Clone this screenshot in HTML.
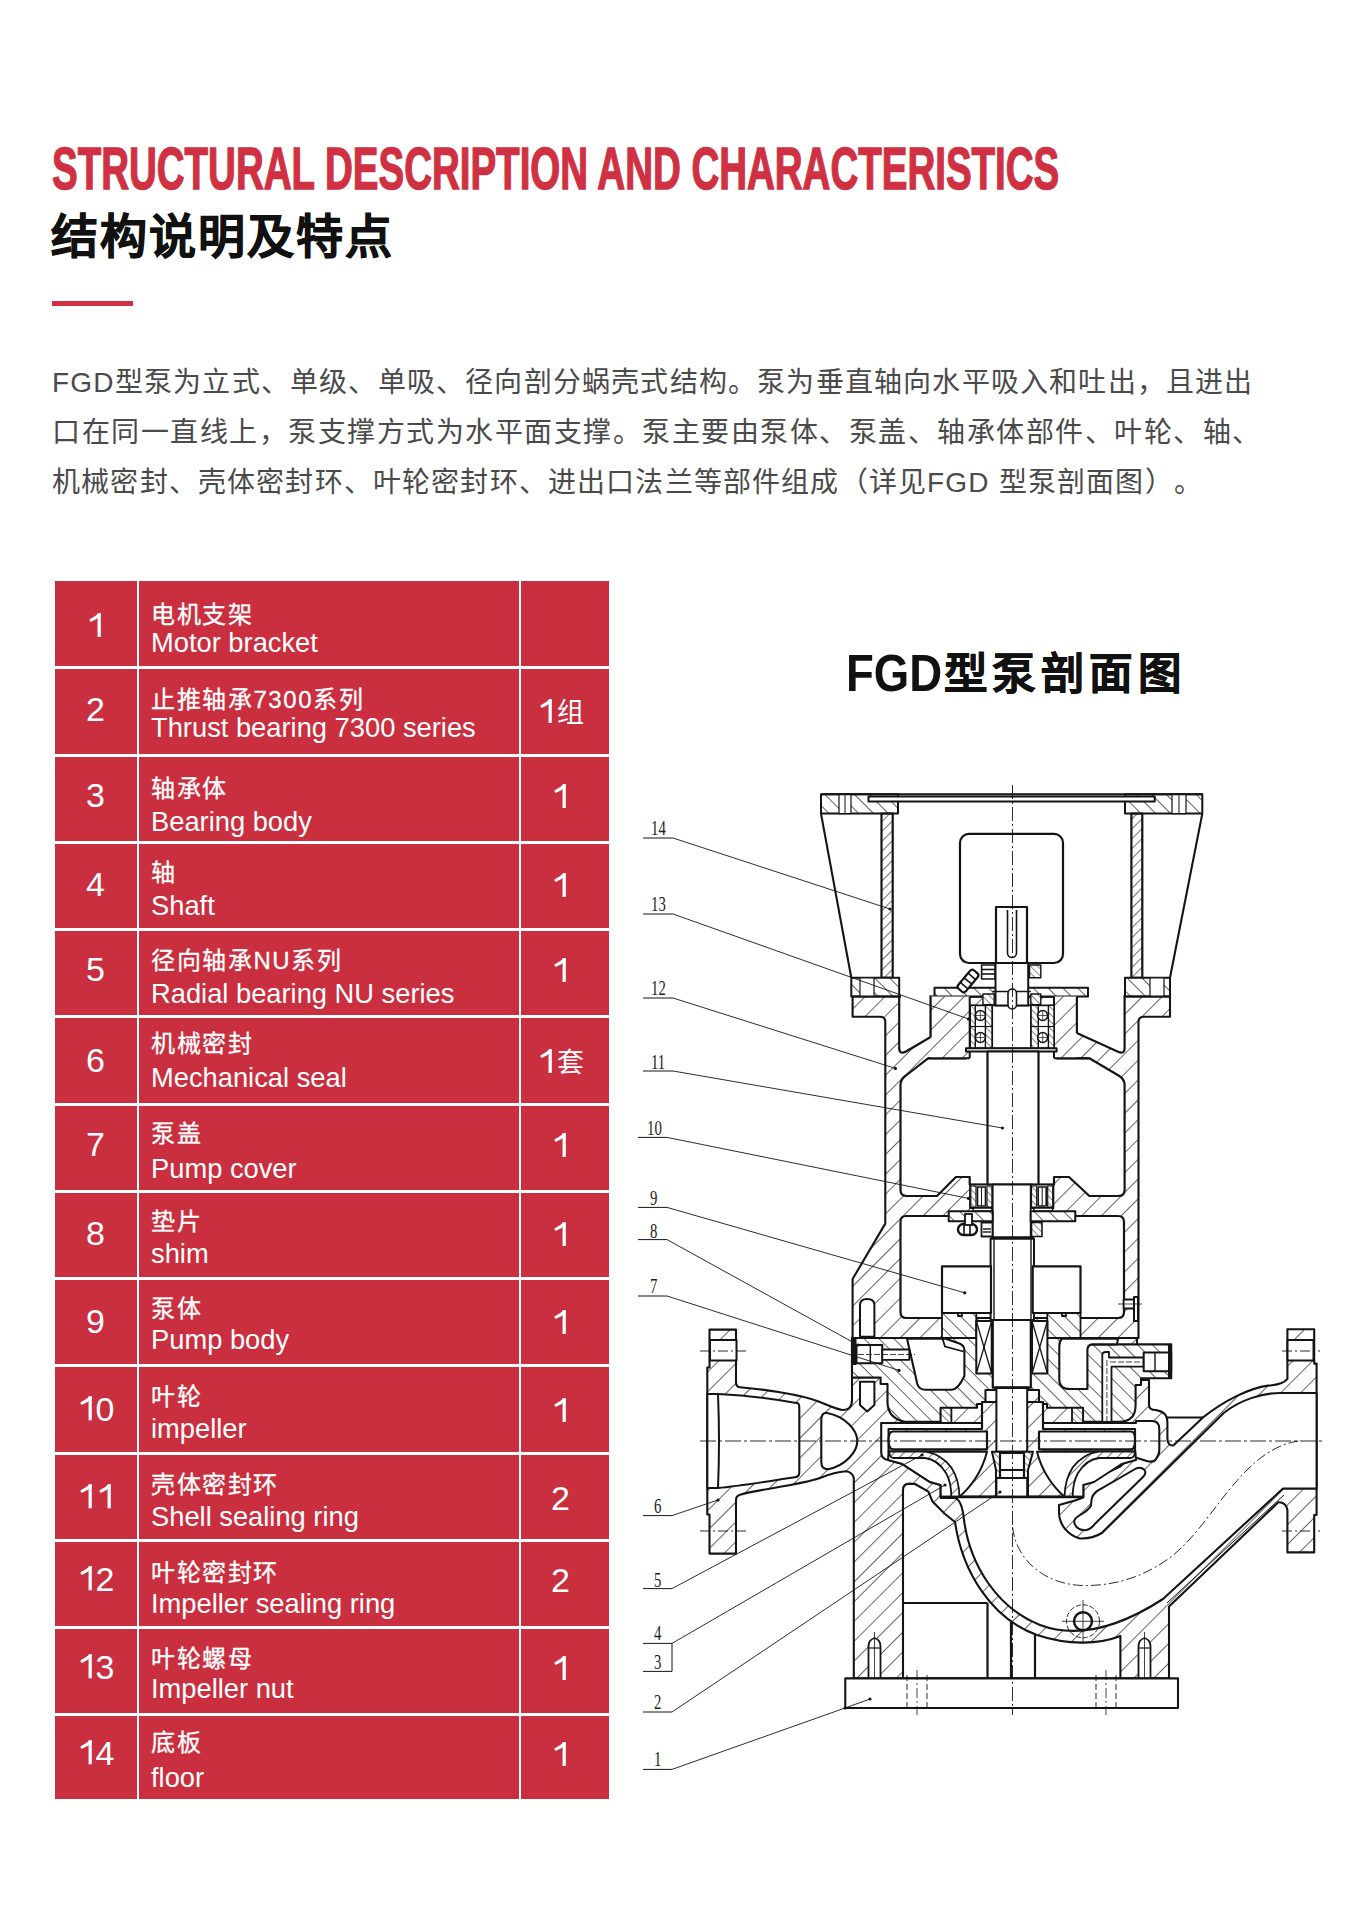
<!DOCTYPE html>
<html lang="zh-CN"><head><meta charset="utf-8">
<style>
html,body{margin:0;padding:0;background:#fff;}
body{width:1350px;height:1920px;position:relative;overflow:hidden;font-family:"Liberation Sans",sans-serif;}
#t1{position:absolute;left:52px;top:140.3px;font-size:58.5px;font-weight:bold;color:#cf3142;white-space:nowrap;transform-origin:0 0;transform:scaleX(0.658);line-height:1;-webkit-text-stroke:1.4px #cf3142;}
#t2{position:absolute;left:51px;top:213px;font-size:47px;font-weight:bold;color:#111;white-space:nowrap;line-height:1;letter-spacing:2px;-webkit-text-stroke:0.7px #111;}
#rl{position:absolute;left:52px;top:301px;width:81px;height:5px;background:#cf3142;}
.p{position:absolute;left:52px;font-size:28px;font-weight:300;color:#4a4a4a;text-spacing-trim:space-all;white-space:nowrap;line-height:1;}
#tbl{position:absolute;left:54.5px;top:581.3px;width:554.5px;height:1217.7px;background:#c92f3f;}
.hl{position:absolute;left:54.5px;width:554.5px;height:3px;background:#fff;}
.vl{position:absolute;top:581.3px;height:1217.7px;width:2.7px;background:#fff;}
.num{position:absolute;left:54.5px;width:82px;text-align:center;color:#fff;font-size:34px;line-height:40px;}
.qty{position:absolute;left:516.5px;width:88px;text-align:center;color:#fff;font-size:34px;line-height:40px;}
.one{vertical-align:baseline;display:inline-block;}
.qc{font-size:27px;position:relative;top:-1px;margin-left:1px;}
.cn{position:absolute;left:151px;color:#fff;font-size:24px;line-height:30px;white-space:nowrap;letter-spacing:1.6px;-webkit-text-stroke:0.3px #fff;}
.en{position:absolute;left:151px;color:#fff;font-size:27.3px;line-height:30px;white-space:nowrap;}
#dt1{position:absolute;left:845.5px;top:648px;font-size:51.6px;font-weight:bold;color:#111;white-space:nowrap;line-height:1;transform-origin:0 0;transform:scaleX(0.883);}
#dt2{position:absolute;left:944px;top:653px;font-size:43.5px;font-weight:bold;color:#111;white-space:nowrap;line-height:1;letter-spacing:5.4px;-webkit-text-stroke:0.7px #111;}
</style></head><body>
<div id="t1">STRUCTURAL DESCRIPTION AND CHARACTERISTICS</div>
<div id="t2">结构说明及特点</div>
<div id="rl"></div>
<div class="p" style="top:368.5px;letter-spacing:1.2px">FGD型泵为立式、单级、单吸、径向剖分蜗壳式结构。泵为垂直轴向水平吸入和吐出，且进出</div>
<div class="p" style="top:419px;letter-spacing:1.5px">口在同一直线上，泵支撑方式为水平面支撑。泵主要由泵体、泵盖、轴承体部件、叶轮、轴、</div>
<div class="p" style="top:468.5px;letter-spacing:1.17px">机械密封、壳体密封环、叶轮密封环、进出口法兰等部件组成（详见FGD 型泵剖面图）。</div>
<div id="tbl"></div>
<div class="hl" style="top:666.2px"></div><div class="hl" style="top:753.5px"></div><div class="hl" style="top:840.7px"></div><div class="hl" style="top:928.0px"></div><div class="hl" style="top:1015.3px"></div><div class="hl" style="top:1102.5px"></div><div class="hl" style="top:1189.8px"></div><div class="hl" style="top:1277.1px"></div><div class="hl" style="top:1364.4px"></div><div class="hl" style="top:1451.6px"></div><div class="hl" style="top:1538.9px"></div><div class="hl" style="top:1626.2px"></div><div class="hl" style="top:1713.4px"></div>
<div class="vl" style="left:136.6px"></div>
<div class="vl" style="left:518.5px"></div>
<div class="num" style="top:605.1px"><svg class="one" viewBox="0 0 556 716" width="0.556em" height="0.716em"><path d="M340,716 V10 H436 V716 Z" fill="#fff"/><path d="M392,45 Q300,150 150,210" stroke="#fff" stroke-width="92" stroke-linecap="round" fill="none"/></svg></div><div class="cn" style="top:599.5px">电机支架</div><div class="en" style="top:627.7px">Motor bracket</div><div class="num" style="top:689.4px">2</div><div class="cn" style="top:685.4px">止推轴承7300系列</div><div class="en" style="top:712.5px">Thrust bearing 7300 series</div><div class="qty" style="top:690.9px"><svg class="one" viewBox="0 0 556 716" width="0.556em" height="0.716em"><path d="M340,716 V10 H436 V716 Z" fill="#fff"/><path d="M392,45 Q300,150 150,210" stroke="#fff" stroke-width="92" stroke-linecap="round" fill="none"/></svg><span class=qc>组</span></div><div class="num" style="top:774.8px">3</div><div class="cn" style="top:773.8px">轴承体</div><div class="en" style="top:807.1px">Bearing body</div><div class="qty" style="top:776.3px"><svg class="one" viewBox="0 0 556 716" width="0.556em" height="0.716em"><path d="M340,716 V10 H436 V716 Z" fill="#fff"/><path d="M392,45 Q300,150 150,210" stroke="#fff" stroke-width="92" stroke-linecap="round" fill="none"/></svg></div><div class="num" style="top:863.8px">4</div><div class="cn" style="top:857.8px">轴</div><div class="en" style="top:891.1px">Shaft</div><div class="qty" style="top:865.3px"><svg class="one" viewBox="0 0 556 716" width="0.556em" height="0.716em"><path d="M340,716 V10 H436 V716 Z" fill="#fff"/><path d="M392,45 Q300,150 150,210" stroke="#fff" stroke-width="92" stroke-linecap="round" fill="none"/></svg></div><div class="num" style="top:948.8px">5</div><div class="cn" style="top:945.8px">径向轴承NU系列</div><div class="en" style="top:979.1px">Radial bearing NU series</div><div class="qty" style="top:950.3px"><svg class="one" viewBox="0 0 556 716" width="0.556em" height="0.716em"><path d="M340,716 V10 H436 V716 Z" fill="#fff"/><path d="M392,45 Q300,150 150,210" stroke="#fff" stroke-width="92" stroke-linecap="round" fill="none"/></svg></div><div class="num" style="top:1039.8px">6</div><div class="cn" style="top:1028.8px">机械密封</div><div class="en" style="top:1063.1px">Mechanical seal</div><div class="qty" style="top:1041.3px"><svg class="one" viewBox="0 0 556 716" width="0.556em" height="0.716em"><path d="M340,716 V10 H436 V716 Z" fill="#fff"/><path d="M392,45 Q300,150 150,210" stroke="#fff" stroke-width="92" stroke-linecap="round" fill="none"/></svg><span class=qc>套</span></div><div class="num" style="top:1123.8px">7</div><div class="cn" style="top:1118.8px">泵盖</div><div class="en" style="top:1154.1px">Pump cover</div><div class="qty" style="top:1125.3px"><svg class="one" viewBox="0 0 556 716" width="0.556em" height="0.716em"><path d="M340,716 V10 H436 V716 Z" fill="#fff"/><path d="M392,45 Q300,150 150,210" stroke="#fff" stroke-width="92" stroke-linecap="round" fill="none"/></svg></div><div class="num" style="top:1212.8px">8</div><div class="cn" style="top:1206.8px">垫片</div><div class="en" style="top:1239.1px">shim</div><div class="qty" style="top:1214.3px"><svg class="one" viewBox="0 0 556 716" width="0.556em" height="0.716em"><path d="M340,716 V10 H436 V716 Z" fill="#fff"/><path d="M392,45 Q300,150 150,210" stroke="#fff" stroke-width="92" stroke-linecap="round" fill="none"/></svg></div><div class="num" style="top:1300.8px">9</div><div class="cn" style="top:1293.8px">泵体</div><div class="en" style="top:1325.1px">Pump body</div><div class="qty" style="top:1302.3px"><svg class="one" viewBox="0 0 556 716" width="0.556em" height="0.716em"><path d="M340,716 V10 H436 V716 Z" fill="#fff"/><path d="M392,45 Q300,150 150,210" stroke="#fff" stroke-width="92" stroke-linecap="round" fill="none"/></svg></div><div class="num" style="top:1388.8px"><svg class="one" viewBox="0 0 556 716" width="0.556em" height="0.716em"><path d="M340,716 V10 H436 V716 Z" fill="#fff"/><path d="M392,45 Q300,150 150,210" stroke="#fff" stroke-width="92" stroke-linecap="round" fill="none"/></svg>0</div><div class="cn" style="top:1381.8px">叶轮</div><div class="en" style="top:1414.1px">impeller</div><div class="qty" style="top:1390.3px"><svg class="one" viewBox="0 0 556 716" width="0.556em" height="0.716em"><path d="M340,716 V10 H436 V716 Z" fill="#fff"/><path d="M392,45 Q300,150 150,210" stroke="#fff" stroke-width="92" stroke-linecap="round" fill="none"/></svg></div><div class="num" style="top:1476.8px"><svg class="one" viewBox="0 0 556 716" width="0.556em" height="0.716em"><path d="M340,716 V10 H436 V716 Z" fill="#fff"/><path d="M392,45 Q300,150 150,210" stroke="#fff" stroke-width="92" stroke-linecap="round" fill="none"/></svg><svg class="one" viewBox="0 0 556 716" width="0.556em" height="0.716em"><path d="M340,716 V10 H436 V716 Z" fill="#fff"/><path d="M392,45 Q300,150 150,210" stroke="#fff" stroke-width="92" stroke-linecap="round" fill="none"/></svg></div><div class="cn" style="top:1469.8px">壳体密封环</div><div class="en" style="top:1502.1px">Shell sealing ring</div><div class="qty" style="top:1478.3px">2</div><div class="num" style="top:1558.8px"><svg class="one" viewBox="0 0 556 716" width="0.556em" height="0.716em"><path d="M340,716 V10 H436 V716 Z" fill="#fff"/><path d="M392,45 Q300,150 150,210" stroke="#fff" stroke-width="92" stroke-linecap="round" fill="none"/></svg>2</div><div class="cn" style="top:1557.8px">叶轮密封环</div><div class="en" style="top:1589.1px">Impeller sealing ring</div><div class="qty" style="top:1560.3px">2</div><div class="num" style="top:1646.8px"><svg class="one" viewBox="0 0 556 716" width="0.556em" height="0.716em"><path d="M340,716 V10 H436 V716 Z" fill="#fff"/><path d="M392,45 Q300,150 150,210" stroke="#fff" stroke-width="92" stroke-linecap="round" fill="none"/></svg>3</div><div class="cn" style="top:1643.8px">叶轮螺母</div><div class="en" style="top:1674.1px">Impeller nut</div><div class="qty" style="top:1648.3px"><svg class="one" viewBox="0 0 556 716" width="0.556em" height="0.716em"><path d="M340,716 V10 H436 V716 Z" fill="#fff"/><path d="M392,45 Q300,150 150,210" stroke="#fff" stroke-width="92" stroke-linecap="round" fill="none"/></svg></div><div class="num" style="top:1732.8px"><svg class="one" viewBox="0 0 556 716" width="0.556em" height="0.716em"><path d="M340,716 V10 H436 V716 Z" fill="#fff"/><path d="M392,45 Q300,150 150,210" stroke="#fff" stroke-width="92" stroke-linecap="round" fill="none"/></svg>4</div><div class="cn" style="top:1727.8px">底板</div><div class="en" style="top:1762.8px">floor</div><div class="qty" style="top:1734.3px"><svg class="one" viewBox="0 0 556 716" width="0.556em" height="0.716em"><path d="M340,716 V10 H436 V716 Z" fill="#fff"/><path d="M392,45 Q300,150 150,210" stroke="#fff" stroke-width="92" stroke-linecap="round" fill="none"/></svg></div>
<div id="dt1">FGD</div><div id="dt2">型泵剖面图</div>
<svg style="position:absolute;left:0;top:0" width="1350" height="1920" viewBox="0 0 1350 1920"><defs>
<pattern id="hA" patternUnits="userSpaceOnUse" width="14" height="14" patternTransform="rotate(45)"><line x1="0" y1="0" x2="0" y2="14" stroke="#141414" stroke-width="1.3"/></pattern>
<pattern id="hB" patternUnits="userSpaceOnUse" width="10.5" height="10.5" patternTransform="rotate(-45)"><line x1="0" y1="0" x2="0" y2="10.5" stroke="#141414" stroke-width="1.3"/></pattern>
<pattern id="hA2" patternUnits="userSpaceOnUse" width="7" height="7" patternTransform="rotate(45)"><line x1="0" y1="0" x2="0" y2="7" stroke="#141414" stroke-width="1.2"/></pattern>
<pattern id="hB2" patternUnits="userSpaceOnUse" width="5" height="5" patternTransform="rotate(-45)"><line x1="0" y1="0" x2="0" y2="5" stroke="#141414" stroke-width="1.0"/></pattern>
</defs>
<path d="M821,794.3 H898 V813.6 H821 Z" fill="#fff" stroke="none"/>
<path d="M821,794.3 H898 V813.6 H821 Z" fill="url(#hB)" stroke="#141414" stroke-width="2.0" stroke-linejoin="round"/>
<path d="M1125,794.3 H1202.3 V813.6 H1125 Z" fill="#fff" stroke="none"/>
<path d="M1125,794.3 H1202.3 V813.6 H1125 Z" fill="url(#hB)" stroke="#141414" stroke-width="2.0" stroke-linejoin="round"/>
<path d="M839,794.3 H851 V813.6 H839 Z" fill="#fff" stroke="#141414" stroke-width="1.2" stroke-linejoin="round"/>
<line x1="845" y1="794.3" x2="845" y2="813.6" stroke="#141414" stroke-width="1.0"/>
<path d="M1172,794.3 H1186 V813.6 H1172 Z" fill="#fff" stroke="#141414" stroke-width="1.2" stroke-linejoin="round"/>
<line x1="1179" y1="794.3" x2="1179" y2="813.6" stroke="#141414" stroke-width="1.0"/>
<path d="M868.5,796.4 H1154.7 V801.6 H868.5 Z" fill="#fff" stroke="#141414" stroke-width="2.0" stroke-linejoin="round"/>
<line x1="821" y1="794.3" x2="1202.3" y2="794.3" stroke="#141414" stroke-width="2.1"/>
<path d="M821,813.6 L851.3,977.8" fill="none" stroke="#141414" stroke-width="2.1" />
<path d="M1202.3,813.6 L1170,977.8" fill="none" stroke="#141414" stroke-width="2.1" />
<path d="M881.5,813.6 H892.7 V977.8 H881.5 Z" fill="#fff" stroke="none"/>
<path d="M881.5,813.6 H892.7 V977.8 H881.5 Z" fill="url(#hA2)" stroke="#141414" stroke-width="2.2" stroke-linejoin="round"/>
<path d="M1131.4,813.6 H1142.3 V977.8 H1131.4 Z" fill="#fff" stroke="none"/>
<path d="M1131.4,813.6 H1142.3 V977.8 H1131.4 Z" fill="url(#hA2)" stroke="#141414" stroke-width="2.2" stroke-linejoin="round"/>
<path d="M851.3,977.8 H899.2 V996.6 H851.3 Z" fill="#fff" stroke="none"/>
<path d="M851.3,977.8 H899.2 V996.6 H851.3 Z" fill="url(#hB)" stroke="#141414" stroke-width="2.0" stroke-linejoin="round"/>
<path d="M860,977.8 H874 V996.6 H860 Z" fill="#fff" stroke="#141414" stroke-width="1.2" stroke-linejoin="round"/>
<path d="M1125,977.8 H1170 V996.6 H1125 Z" fill="#fff" stroke="none"/>
<path d="M1125,977.8 H1170 V996.6 H1125 Z" fill="url(#hB)" stroke="#141414" stroke-width="2.0" stroke-linejoin="round"/>
<path d="M1150,977.8 H1164 V996.6 H1150 Z" fill="#fff" stroke="#141414" stroke-width="1.2" stroke-linejoin="round"/>
<rect x="960" y="833.8" width="103" height="129.2" rx="9" fill="#fff" stroke="#141414" stroke-width="2.2"/>
<path d="M996,907 H1027 V963 H996 Z" fill="#fff" stroke="#141414" stroke-width="2.2" stroke-linejoin="round"/>
<path d="M1007.5,910 V953 A4.5,4.5 0 0 0 1016.5,953 V910" fill="none" stroke="#141414" stroke-width="1.6" />
<path d="M852.6,996.6 H1170 V1016.8 H1144 Q1138.5,1016.8 1138.5,1022 V1338 H852.6 V1279 L885.3,1223.6 V1022 Q885.3,1016.8 880,1016.8 H852.6 Z" fill="#fff" stroke="none"/>
<path d="M852.6,996.6 H1170 V1016.8 H1144 Q1138.5,1016.8 1138.5,1022 V1338 H852.6 V1279 L885.3,1223.6 V1022 Q885.3,1016.8 880,1016.8 H852.6 Z" fill="url(#hA)" stroke="#141414" stroke-width="2.1" stroke-linejoin="round"/>
<path d="M899.2,996.6 V1048 Q899.2,1055 906,1051.5 L930.7,1037 V996.6 Z" fill="#fff" stroke="#141414" stroke-width="2.2" stroke-linejoin="round"/>
<path d="M1076.8,996.6 V1033 L1117.5,1051.5 Q1124.6,1055 1124.6,1048 V996.6 Z" fill="#fff" stroke="#141414" stroke-width="2.2" stroke-linejoin="round"/>
<path d="M900.5,1085 Q900.5,1079 906,1075.5 L928,1058.3 H966 V1051 H1056.6 V1058.3 H1089.4 L1118.5,1075.5 Q1124.6,1079 1124.6,1085 V1190 Q1124.6,1196 1118.6,1196 H1089.4 L1069,1177 H1054 V1184.5 H969.7 V1177 H955.9 L937,1196 H906.5 Q900.5,1196 900.5,1190 Z" fill="#fff" stroke="#141414" stroke-width="2.2" stroke-linejoin="round"/>
<path d="M906,1216 H1118 Q1124,1216 1124,1222 V1312 Q1124,1318 1118,1318 H906 Q900.5,1318 900.5,1312 V1222 Q900.5,1216 906,1216 Z" fill="#fff" stroke="#141414" stroke-width="2.2" stroke-linejoin="round"/>
<rect x="901" y="994.8" width="28.5" height="3.6" fill="#fff"/>
<rect x="1078" y="994.8" width="45.4" height="3.6" fill="#fff"/>
<path d="M934.5,987.8 H1088 V996.6 H934.5 Z" fill="#fff" stroke="none"/>
<path d="M934.5,987.8 H1088 V996.6 H934.5 Z" fill="url(#hB)" stroke="#141414" stroke-width="2.0" stroke-linejoin="round"/>
<path d="M930.7,996.6 H969.7 V1058.3 H930.7 Z" fill="#fff" stroke="none"/>
<path d="M930.7,996.6 H969.7 V1058.3 H930.7 Z" fill="url(#hA)" stroke="#141414" stroke-width="0" stroke-linejoin="round"/>
<path d="M1054,996.6 H1076.8 V1058.3 H1054 Z" fill="#fff" stroke="none"/>
<path d="M1054,996.6 H1076.8 V1058.3 H1054 Z" fill="url(#hA)" stroke="#141414" stroke-width="0" stroke-linejoin="round"/>
<line x1="930.7" y1="996.6" x2="930.7" y2="1037.5" stroke="#141414" stroke-width="2.0"/>
<line x1="969.7" y1="996.6" x2="969.7" y2="1058.3" stroke="#141414" stroke-width="2.0"/>
<line x1="928" y1="1058.3" x2="969.7" y2="1058.3" stroke="#141414" stroke-width="2.0"/>
<line x1="1076.8" y1="996.6" x2="1076.8" y2="1033.5" stroke="#141414" stroke-width="2.0"/>
<line x1="1054" y1="996.6" x2="1054" y2="1058.3" stroke="#141414" stroke-width="2.0"/>
<line x1="1054" y1="1058.3" x2="1089.4" y2="1058.3" stroke="#141414" stroke-width="2.0"/>
<path d="M970.3,1005.4 H992.3 V1048.2 H970.3 Z" fill="#fff" stroke="#141414" stroke-width="1.8" stroke-linejoin="round"/>
<path d="M970.3,1005.4 H975.3 V1048.2 H970.3 Z" fill="#fff" stroke="none"/>
<path d="M970.3,1005.4 H975.3 V1048.2 H970.3 Z" fill="url(#hB2)" stroke="#141414" stroke-width="1.4" stroke-linejoin="round"/>
<path d="M985.4,1005.4 H992.3 V1048.2 H985.4 Z" fill="#fff" stroke="none"/>
<path d="M985.4,1005.4 H992.3 V1048.2 H985.4 Z" fill="url(#hB2)" stroke="#141414" stroke-width="1.4" stroke-linejoin="round"/>
<line x1="970.3" y1="1026.5" x2="992.3" y2="1026.5" stroke="#141414" stroke-width="1.2"/>
<circle cx="980.4" cy="1015.5" r="5" fill="#fff" stroke="#141414" stroke-width="1.6"/>
<line x1="975.9" y1="1015.5" x2="984.9" y2="1015.5" stroke="#141414" stroke-width="0.7"/>
<line x1="980.4" y1="1011.0" x2="980.4" y2="1020.0" stroke="#141414" stroke-width="0.7"/>
<circle cx="980.4" cy="1037.5" r="5" fill="#fff" stroke="#141414" stroke-width="1.6"/>
<line x1="975.9" y1="1037.5" x2="984.9" y2="1037.5" stroke="#141414" stroke-width="0.7"/>
<line x1="980.4" y1="1033.0" x2="980.4" y2="1042.0" stroke="#141414" stroke-width="0.7"/>
<path d="M1030.8,1005.4 H1054 V1048.2 H1030.8 Z" fill="#fff" stroke="#141414" stroke-width="1.8" stroke-linejoin="round"/>
<path d="M1048.4,1005.4 H1054 V1048.2 H1048.4 Z" fill="#fff" stroke="none"/>
<path d="M1048.4,1005.4 H1054 V1048.2 H1048.4 Z" fill="url(#hB2)" stroke="#141414" stroke-width="1.4" stroke-linejoin="round"/>
<path d="M1030.8,1005.4 H1038.3 V1048.2 H1030.8 Z" fill="#fff" stroke="none"/>
<path d="M1030.8,1005.4 H1038.3 V1048.2 H1030.8 Z" fill="url(#hB2)" stroke="#141414" stroke-width="1.4" stroke-linejoin="round"/>
<line x1="1030.8" y1="1026.5" x2="1054" y2="1026.5" stroke="#141414" stroke-width="1.2"/>
<circle cx="1042.7" cy="1015.5" r="5" fill="#fff" stroke="#141414" stroke-width="1.6"/>
<line x1="1038.2" y1="1015.5" x2="1047.2" y2="1015.5" stroke="#141414" stroke-width="0.7"/>
<line x1="1042.7" y1="1011.0" x2="1042.7" y2="1020.0" stroke="#141414" stroke-width="0.7"/>
<circle cx="1042.7" cy="1037.5" r="5" fill="#fff" stroke="#141414" stroke-width="1.6"/>
<line x1="1038.2" y1="1037.5" x2="1047.2" y2="1037.5" stroke="#141414" stroke-width="0.7"/>
<line x1="1042.7" y1="1033.0" x2="1042.7" y2="1042.0" stroke="#141414" stroke-width="0.7"/>
<path d="M992.3,1005.4 H1030.8 V1048.2 H992.3 Z" fill="#fff" stroke="#141414" stroke-width="1.6" stroke-linejoin="round"/>
<path d="M966,1048.2 H1056.6 V1051.5 H966 Z" fill="#fff" stroke="#141414" stroke-width="2.0" stroke-linejoin="round"/>
<path d="M995.5,963 H1028.2 V1005.4 H995.5 Z" fill="#fff" stroke="#141414" stroke-width="2.0" stroke-linejoin="round"/>
<line x1="992.3" y1="991.5" x2="1030.8" y2="991.5" stroke="#141414" stroke-width="1.6"/>
<path d="M981.6,965 H994.9 V979 H981.6 Z" fill="#fff" stroke="#141414" stroke-width="1.6" stroke-linejoin="round"/>
<line x1="982" y1="969.5" x2="994.5" y2="969.5" stroke="#141414" stroke-width="1.6"/>
<line x1="982" y1="974" x2="994.5" y2="974" stroke="#141414" stroke-width="1.6"/>
<path d="M1029.5,965 H1040.8 V977.7 H1029.5 Z" fill="#fff" stroke="none"/>
<path d="M1029.5,965 H1040.8 V977.7 H1029.5 Z" fill="url(#hB2)" stroke="#141414" stroke-width="1.4" stroke-linejoin="round"/>
<path d="M982.9,994 H994.2 V1004.7 H982.9 Z" fill="#fff" stroke="none"/>
<path d="M982.9,994 H994.2 V1004.7 H982.9 Z" fill="url(#hB2)" stroke="#141414" stroke-width="1.4" stroke-linejoin="round"/>
<path d="M1030.8,994 H1040.8 V1004.7 H1030.8 Z" fill="#fff" stroke="none"/>
<path d="M1030.8,994 H1040.8 V1004.7 H1030.8 Z" fill="url(#hB2)" stroke="#141414" stroke-width="1.4" stroke-linejoin="round"/>
<g transform="rotate(-50 968 981)"><rect x="956" y="976" width="24" height="10" rx="3" fill="#fff" stroke="#141414" stroke-width="2.2"/><line x1="962" y1="976" x2="962" y2="986" stroke="#141414" stroke-width="1.6"/><line x1="968" y1="976" x2="968" y2="986" stroke="#141414" stroke-width="1.6"/><line x1="974" y1="976" x2="974" y2="986" stroke="#141414" stroke-width="1.6"/></g>
<rect x="1008" y="989" width="8.5" height="20" rx="4.2" fill="#fff" stroke="#141414" stroke-width="1.6"/>
<path d="M987.5,1051.5 H1038.5 V1184.5 H987.5 Z" fill="#fff" stroke="#141414" stroke-width="2.2" stroke-linejoin="round"/>
<path d="M970,1184.7 H992.7 V1208 H970 Z" fill="#fff" stroke="#141414" stroke-width="1.8" stroke-linejoin="round"/>
<path d="M970.8,1186 H976 V1207 H970.8 Z" fill="#fff" stroke="none"/>
<path d="M970.8,1186 H976 V1207 H970.8 Z" fill="url(#hB2)" stroke="#141414" stroke-width="1.2" stroke-linejoin="round"/>
<path d="M987,1186 H992 V1207 H987 Z" fill="#fff" stroke="none"/>
<path d="M987,1186 H992 V1207 H987 Z" fill="url(#hB2)" stroke="#141414" stroke-width="1.2" stroke-linejoin="round"/>
<path d="M977.5,1187 H985.5 V1206 H977.5 Z" fill="#fff" stroke="#141414" stroke-width="1.6" stroke-linejoin="round"/>
<line x1="981.5" y1="1187" x2="981.5" y2="1206" stroke="#141414" stroke-width="1.0"/>
<rect x="973" y="1208" width="19" height="3.3" rx="1.5" fill="#fff" stroke="#141414" stroke-width="1.4"/>
<path d="M1030.7,1184.7 H1053.4 V1208 H1030.7 Z" fill="#fff" stroke="#141414" stroke-width="1.8" stroke-linejoin="round"/>
<path d="M1031.5,1186 H1036.7 V1207 H1031.5 Z" fill="#fff" stroke="none"/>
<path d="M1031.5,1186 H1036.7 V1207 H1031.5 Z" fill="url(#hB2)" stroke="#141414" stroke-width="1.2" stroke-linejoin="round"/>
<path d="M1047.7,1186 H1052.7 V1207 H1047.7 Z" fill="#fff" stroke="none"/>
<path d="M1047.7,1186 H1052.7 V1207 H1047.7 Z" fill="url(#hB2)" stroke="#141414" stroke-width="1.2" stroke-linejoin="round"/>
<path d="M1038.2,1187 H1046.2 V1206 H1038.2 Z" fill="#fff" stroke="#141414" stroke-width="1.6" stroke-linejoin="round"/>
<line x1="1042.2" y1="1187" x2="1042.2" y2="1206" stroke="#141414" stroke-width="1.0"/>
<rect x="1033.7" y="1208" width="19" height="3.3" rx="1.5" fill="#fff" stroke="#141414" stroke-width="1.4"/>
<path d="M992.7,1184.5 H1030.7 V1237.3 H992.7 Z" fill="#fff" stroke="#141414" stroke-width="1.8" stroke-linejoin="round"/>
<path d="M948.7,1211.3 H992.7 V1221.3 H948.7 Z" fill="#fff" stroke="none"/>
<path d="M948.7,1211.3 H992.7 V1221.3 H948.7 Z" fill="url(#hB)" stroke="#141414" stroke-width="2.0" stroke-linejoin="round"/>
<path d="M1030.7,1211.3 H1075.3 V1221.3 H1030.7 Z" fill="#fff" stroke="none"/>
<path d="M1030.7,1211.3 H1075.3 V1221.3 H1030.7 Z" fill="url(#hB)" stroke="#141414" stroke-width="2.0" stroke-linejoin="round"/>
<line x1="990.6" y1="1237.5" x2="1034" y2="1237.5" stroke="#141414" stroke-width="2.0"/>
<line x1="990.6" y1="1240" x2="1034" y2="1240" stroke="#141414" stroke-width="1.2"/>
<path d="M990.6,1238.7 H1034 V1320 H990.6 Z" fill="#fff" stroke="#141414" stroke-width="2.0" stroke-linejoin="round"/>
<line x1="994" y1="1238.7" x2="994" y2="1320" stroke="#141414" stroke-width="1.4"/>
<line x1="1031" y1="1238.7" x2="1031" y2="1320" stroke="#141414" stroke-width="1.4"/>
<path d="M942,1266.4 H991 V1313 H942 Z" fill="#fff" stroke="#141414" stroke-width="2.2" stroke-linejoin="round"/>
<path d="M1032.7,1266.4 H1080.5 V1313 H1032.7 Z" fill="#fff" stroke="#141414" stroke-width="2.2" stroke-linejoin="round"/>
<rect x="958" y="1224" width="19" height="11" rx="5.5" fill="#fff" stroke="#141414" stroke-width="2.4"/>
<line x1="964" y1="1225" x2="964" y2="1234" stroke="#141414" stroke-width="1.6"/>
<line x1="970" y1="1225" x2="970" y2="1234" stroke="#141414" stroke-width="1.6"/>
<rect x="965" y="1214" width="7" height="11" fill="#fff" stroke="#141414" stroke-width="1.8"/>
<path d="M981.5,1222.5 H992.5 V1236.5 H981.5 Z" fill="#fff" stroke="#141414" stroke-width="1.8" stroke-linejoin="round"/>
<line x1="983" y1="1229" x2="991" y2="1229" stroke="#141414" stroke-width="1.4"/>
<line x1="983" y1="1232" x2="991" y2="1232" stroke="#141414" stroke-width="1.4"/>
<path d="M1031.5,1222.5 H1042 V1236.5 H1031.5 Z" fill="#fff" stroke="none"/>
<path d="M1031.5,1222.5 H1042 V1236.5 H1031.5 Z" fill="url(#hB2)" stroke="#141414" stroke-width="1.6" stroke-linejoin="round"/>
<path d="M852,1338 H1137 V1380 H1149 V1405 Q1149,1410 1156,1410 Q1167.4,1412 1167.4,1422 V1438 Q1167.4,1446 1173.3,1445.5 L1203,1417.4 C1225,1400 1250,1388 1268,1385.6 Q1283,1384.8 1287.4,1378.9 V1329.3 H1314.2 V1363.6 H1316.6 V1515 H1314.2 V1552.4 H1287.4 V1510 Q1286,1502 1278.3,1502.3 L1169,1606.4 V1678.4 H853.8 V1478 Q852,1472 846,1471.3 C835,1472 825,1476 820,1478 C800,1485 760,1489 740,1494.7 Q736,1496 736,1500 V1553.6 H709.5 V1514.5 H707.3 V1367.5 H709.5 V1329.6 H736 V1382 Q736,1387 740,1387.3 C760,1389 800,1394 820,1402 C830,1406 838,1410 843,1410 Q852,1410 852,1400 Z" fill="#fff" stroke="none"/>
<path d="M852,1338 H1137 V1380 H1149 V1405 Q1149,1410 1156,1410 Q1167.4,1412 1167.4,1422 V1438 Q1167.4,1446 1173.3,1445.5 L1203,1417.4 C1225,1400 1250,1388 1268,1385.6 Q1283,1384.8 1287.4,1378.9 V1329.3 H1314.2 V1363.6 H1316.6 V1515 H1314.2 V1552.4 H1287.4 V1510 Q1286,1502 1278.3,1502.3 L1169,1606.4 V1678.4 H853.8 V1478 Q852,1472 846,1471.3 C835,1472 825,1476 820,1478 C800,1485 760,1489 740,1494.7 Q736,1496 736,1500 V1553.6 H709.5 V1514.5 H707.3 V1367.5 H709.5 V1329.6 H736 V1382 Q736,1387 740,1387.3 C760,1389 800,1394 820,1402 C830,1406 838,1410 843,1410 Q852,1410 852,1400 Z" fill="url(#hA)" stroke="#141414" stroke-width="2.1" stroke-linejoin="round"/>
<path d="M707.3,1394 H718 C740,1395 770,1398 798,1403.3 Q799.3,1404 799.3,1408 V1472 Q799.3,1476.7 795,1477.3 C770,1481 740,1486 718,1488 H707.3 Z" fill="#fff" stroke="#141414" stroke-width="2.1" stroke-linejoin="round"/>
<path d="M718,1394 Q720,1441 718,1488" fill="none" stroke="#141414" stroke-width="2.0" />
<path d="M826,1412.7 Q821.3,1413 821.3,1420 V1462 Q821.3,1469.3 828,1469.3 C845,1466 857.3,1452 857.3,1441 C857.3,1430 845,1416 826,1412.7 Z" fill="#fff" stroke="#141414" stroke-width="2.1" stroke-linejoin="round"/>
<path d="M710,1340 H736.5 V1360.6 H710 Z" fill="#fff" stroke="#141414" stroke-width="2.0" stroke-linejoin="round"/>
<line x1="700" y1="1351" x2="746" y2="1351" stroke="#141414" stroke-width="0.9" stroke-dasharray="10 3 2 3"/>
<line x1="700" y1="1531" x2="746" y2="1531" stroke="#141414" stroke-width="0.9" stroke-dasharray="10 3 2 3"/>
<path d="M1287.5,1340 H1313.5 V1360.6 H1287.5 Z" fill="#fff" stroke="#141414" stroke-width="2.0" stroke-linejoin="round"/>
<line x1="1282" y1="1351" x2="1320" y2="1351" stroke="#141414" stroke-width="0.9" stroke-dasharray="10 3 2 3"/>
<line x1="1282" y1="1531" x2="1320" y2="1531" stroke="#141414" stroke-width="0.9" stroke-dasharray="10 3 2 3"/>
<path d="M903,1678.4 V1490 Q903,1483.6 910,1483.6 L915,1484 L928.4,1491.7 L932.5,1501.5 L944.7,1513.7 L955,1522 C962,1570 990,1618 1037,1635 C1070,1646 1100,1644 1120.4,1636 V1678.4 Z" fill="#fff" stroke="#141414" stroke-width="2.1" stroke-linejoin="round"/>
<path d="M881.2,1423 V1452.6 Q881.2,1459 888,1460 L902.4,1464 L930,1482 L940.7,1485 V1498 H955 Q962,1500 964,1520 C970,1565 997,1608 1040,1625 C1072,1637 1112,1632 1163,1599 L1283,1488.6 H1316.6 V1393 H1280 C1262,1393 1240,1400 1223.7,1413 L1102,1533 Q1092,1539 1080,1538.5 C1068,1535 1059,1525 1059,1512 V1505 L1075,1500.5 L1083.3,1497.6 V1482.8 L1087.4,1481.6 L1093.3,1479.3 L1120.6,1466.2 L1123,1463.9 L1137.2,1457.9 L1146.7,1460.9 Q1153.8,1463 1156,1459 Q1159.3,1455 1159.3,1450 V1429 Q1159.3,1421 1152,1421 H1136 V1423 Z" fill="#fff" stroke="#141414" stroke-width="2.1" stroke-linejoin="round"/>
<path d="M1144.3,1469.8 Q1141,1466.5 1136,1468.5 L1096.9,1491.1 Q1092,1495 1091.5,1500 L1091,1505.3 Q1089,1510 1080.3,1514.8 Q1073,1519 1074.4,1522.7 Q1076,1530 1085,1530.2 Q1090,1530 1094.5,1524.3 L1143,1477 Q1147,1473 1144.3,1469.8 Z" fill="#fff" stroke="#141414" stroke-width="2.0" stroke-linejoin="round"/>
<line x1="1166" y1="1417.4" x2="1203" y2="1417.4" stroke="#141414" stroke-width="2.0"/>
<path d="M1167,1603 L1284,1495" fill="none" stroke="#141414" stroke-width="1.0" />
<path d="M1012.6,1527 C1016,1560 1045,1586 1087,1585.6 C1120,1585 1145,1575 1167,1559.8 C1195,1540 1215,1505 1237,1480.7 C1255,1460 1275,1444 1300,1440.8" fill="none" stroke="#141414" stroke-width="0.9" stroke-dasharray="10 3 2 3" />
<line x1="987.5" y1="1603" x2="987.5" y2="1678.4" stroke="#141414" stroke-width="2.2"/>
<line x1="1011" y1="1622" x2="1011" y2="1678.4" stroke="#141414" stroke-width="2.2"/>
<line x1="1035" y1="1634" x2="1035" y2="1678.4" stroke="#141414" stroke-width="2.2"/>
<line x1="904" y1="1603" x2="987.5" y2="1603" stroke="#141414" stroke-width="2.2"/>
<circle cx="1083" cy="1621.3" r="16.5" fill="none" stroke="#141414" stroke-width="0.9" stroke-dasharray="5 2"/>
<circle cx="1083" cy="1621.3" r="9" fill="#fff" stroke="#141414" stroke-width="2.4"/>
<line x1="1062" y1="1621.3" x2="1104" y2="1621.3" stroke="#141414" stroke-width="0.8"/>
<line x1="1083" y1="1600" x2="1083" y2="1642" stroke="#141414" stroke-width="0.8"/>
<path d="M868.5,1678.4 V1646 Q868.5,1640 874.5,1638 Q880.5,1640 880.5,1646 V1678.4 Z" fill="#fff" stroke="#141414" stroke-width="1.8" stroke-linejoin="round"/>
<line x1="868.5" y1="1648" x2="880.5" y2="1648" stroke="#141414" stroke-width="1.2"/>
<line x1="874.5" y1="1632" x2="874.5" y2="1690" stroke="#141414" stroke-width="0.8"/>
<path d="M1138.5,1678.4 V1646 Q1138.5,1640 1144.5,1638 Q1150.5,1640 1150.5,1646 V1678.4 Z" fill="#fff" stroke="#141414" stroke-width="1.8" stroke-linejoin="round"/>
<line x1="1138.5" y1="1648" x2="1150.5" y2="1648" stroke="#141414" stroke-width="1.2"/>
<line x1="1144.5" y1="1632" x2="1144.5" y2="1690" stroke="#141414" stroke-width="0.8"/>
<path d="M845.3,1678.4 H1178 V1708 H845.3 Z" fill="#fff" stroke="#141414" stroke-width="2.1" stroke-linejoin="round"/>
<line x1="907" y1="1675" x2="907" y2="1710" stroke="#141414" stroke-width="0.9" stroke-dasharray="6 3"/>
<line x1="927" y1="1675" x2="927" y2="1710" stroke="#141414" stroke-width="0.9" stroke-dasharray="6 3"/>
<line x1="917" y1="1670" x2="917" y2="1715" stroke="#141414" stroke-width="0.8" stroke-dasharray="10 3 2 3"/>
<line x1="1096" y1="1675" x2="1096" y2="1710" stroke="#141414" stroke-width="0.9" stroke-dasharray="6 3"/>
<line x1="1116" y1="1675" x2="1116" y2="1710" stroke="#141414" stroke-width="0.9" stroke-dasharray="6 3"/>
<line x1="1106" y1="1670" x2="1106" y2="1715" stroke="#141414" stroke-width="0.8" stroke-dasharray="10 3 2 3"/>
<path d="M852,1338 H1089 V1344.4 H1171.2 V1378.2 H1141 V1385 H1135.6 V1405 Q1135.6,1421.8 1119,1421.8 H1083 V1407.8 H1047 V1404 H1039 V1390 H985.5 V1404 H977 V1407.8 H940.7 V1421.8 H904.7 Q887.5,1418 887.5,1402 V1384 H880.6 V1377.6 H852 Z" fill="#fff" stroke="none"/>
<path d="M852,1338 H1089 V1344.4 H1171.2 V1378.2 H1141 V1385 H1135.6 V1405 Q1135.6,1421.8 1119,1421.8 H1083 V1407.8 H1047 V1404 H1039 V1390 H985.5 V1404 H977 V1407.8 H940.7 V1421.8 H904.7 Q887.5,1418 887.5,1402 V1384 H880.6 V1377.6 H852 Z" fill="url(#hB)" stroke="#141414" stroke-width="2.1" stroke-linejoin="round"/>
<path d="M907,1338.6 L917.3,1384 Q919,1389.7 925.4,1389.7 H951.8 Q958,1389.7 964.4,1376 V1350 Q964.4,1345 958,1343 L945,1338.6 Z" fill="#fff" stroke="#141414" stroke-width="2.1" stroke-linejoin="round"/>
<path d="M942.6,1339 L945,1346.5 L963.5,1351.5" fill="none" stroke="#141414" stroke-width="1.8" />
<path d="M1062,1338.6 Q1059.3,1341 1059.3,1346 V1380 Q1059.3,1389 1070,1389 H1087.4 V1350 Q1087.4,1345 1092,1344.4 H1117 L1118,1338.6 Z" fill="#fff" stroke="#141414" stroke-width="2.1" stroke-linejoin="round"/>
<path d="M1102.3,1421.8 V1355 Q1102.3,1352 1106,1352 H1109 V1357.5 H1143.7 V1366.7 H1111.5 V1421.8 Z" fill="#fff" stroke="#141414" stroke-width="1.8" stroke-linejoin="round"/>
<line x1="1106.9" y1="1360" x2="1106.9" y2="1421" stroke="#141414" stroke-width="0.8" stroke-dasharray="6 2"/>
<line x1="1110" y1="1362" x2="1148" y2="1362" stroke="#141414" stroke-width="0.8" stroke-dasharray="6 2"/>
<path d="M942,1313 H958 V1316 H962 V1313 H976.3 V1338 H942 Z" fill="#fff" stroke="none"/>
<path d="M942,1313 H958 V1316 H962 V1313 H976.3 V1338 H942 Z" fill="url(#hB)" stroke="#141414" stroke-width="1.8" stroke-linejoin="round"/>
<path d="M1047.3,1313 H1062 V1316 H1066 V1313 H1080.5 V1338 H1047.3 Z" fill="#fff" stroke="none"/>
<path d="M1047.3,1313 H1062 V1316 H1066 V1313 H1080.5 V1338 H1047.3 Z" fill="url(#hB)" stroke="#141414" stroke-width="1.8" stroke-linejoin="round"/>
<path d="M940.7,1407.8 H951.4 V1423 H940.7 Z" fill="#fff" stroke="none"/>
<path d="M940.7,1407.8 H951.4 V1423 H940.7 Z" fill="url(#hB2)" stroke="#141414" stroke-width="1.8" stroke-linejoin="round"/>
<path d="M940.7,1482.5 H951.4 V1496.7 H940.7 Z" fill="#fff" stroke="none"/>
<path d="M940.7,1482.5 H951.4 V1496.7 H940.7 Z" fill="url(#hB2)" stroke="#141414" stroke-width="1.8" stroke-linejoin="round"/>
<path d="M1072,1407.8 H1083 V1423 H1072 Z" fill="#fff" stroke="none"/>
<path d="M1072,1407.8 H1083 V1423 H1072 Z" fill="url(#hB2)" stroke="#141414" stroke-width="1.8" stroke-linejoin="round"/>
<path d="M1072,1482.5 H1083 V1496.7 H1072 Z" fill="#fff" stroke="none"/>
<path d="M1072,1482.5 H1083 V1496.7 H1072 Z" fill="url(#hB2)" stroke="#141414" stroke-width="1.8" stroke-linejoin="round"/>
<rect x="852" y="1337" width="4.5" height="28" fill="#141414"/>
<path d="M856.5,1345 H882.3 V1363.3 H856.5 Z" fill="#fff" stroke="#141414" stroke-width="2.0" stroke-linejoin="round"/>
<line x1="870.3" y1="1345" x2="870.3" y2="1363.3" stroke="#141414" stroke-width="1.4"/>
<path d="M882.3,1349.5 H909.3 V1359.9 H882.3 Z" fill="#fff" stroke="#141414" stroke-width="1.8" stroke-linejoin="round"/>
<line x1="858" y1="1354.5" x2="915" y2="1354.5" stroke="#141414" stroke-width="0.8" stroke-dasharray="6 2"/>
<path d="M860,1336.7 V1305 Q860,1299 867.2,1299 Q874.4,1299 874.4,1305 V1336.7 Z" fill="#fff" stroke="#141414" stroke-width="2.0" stroke-linejoin="round"/>
<path d="M860,1381.8 V1405 L867.2,1411.4 L874.4,1405 V1381.8 Z" fill="#fff" stroke="#141414" stroke-width="2.0" stroke-linejoin="round"/>
<path d="M1143.7,1352.4 H1171.2 V1371.3 H1143.7 Z" fill="#fff" stroke="#141414" stroke-width="2.0" stroke-linejoin="round"/>
<line x1="1155" y1="1352.4" x2="1155" y2="1371.3" stroke="#141414" stroke-width="1.4"/>
<rect x="1168" y="1345" width="4" height="33" fill="#141414"/>
<path d="M1123.6,1299.5 H1134 V1308.5 H1123.6 Z" fill="#fff" stroke="#141414" stroke-width="1.8" stroke-linejoin="round"/>
<path d="M1134,1297 H1138 V1321 H1134 Z" fill="#fff" stroke="#141414" stroke-width="2.0" stroke-linejoin="round"/>
<line x1="1118" y1="1304" x2="1142" y2="1304" stroke="#141414" stroke-width="0.8"/>
<path d="M888.6,1429 H982 V1402 H1043 V1429 H1135 V1451.7 H1043 C1050,1470 1062,1486 1072,1496.7 H953 C965,1486 977,1470 982,1451.7 H888.6 Z" fill="#fff" stroke="none"/>
<path d="M888.6,1429 H982 V1402 H1043 V1429 H1135 V1451.7 H1043 C1050,1470 1062,1486 1072,1496.7 H953 C965,1486 977,1470 982,1451.7 H888.6 Z" fill="url(#hA)" stroke="#141414" stroke-width="2.2" stroke-linejoin="round"/>
<path d="M893,1431.5 H987 V1449.3 H893 Q888.6,1449.3 888.6,1440 Q888.6,1431.5 893,1431.5 Z" fill="#fff" stroke="#141414" stroke-width="2.2" stroke-linejoin="round"/>
<path d="M1039,1431.5 H1131 Q1135,1431.5 1135,1440 Q1135,1449.3 1131,1449.3 H1039 Z" fill="#fff" stroke="#141414" stroke-width="2.2" stroke-linejoin="round"/>
<path d="M888.6,1451.7 H987 C982,1472 970,1488 959.4,1496.7 H940.7 V1485 L930,1482 L902.4,1464 L888,1460 Z" fill="#fff" stroke="#141414" stroke-width="2.0" stroke-linejoin="round"/>
<path d="M889.3,1451.7 H925 C936,1453 946,1460 951,1467 C957,1476 959.4,1486 959.4,1496.7 H951.3 C951.3,1488 950,1480 946,1473 C941,1465 934,1459 925,1458 H893 Q889.3,1457 889.3,1451.7 Z" fill="#fff" stroke="none"/>
<path d="M889.3,1451.7 H925 C936,1453 946,1460 951,1467 C957,1476 959.4,1486 959.4,1496.7 H951.3 C951.3,1488 950,1480 946,1473 C941,1465 934,1459 925,1458 H893 Q889.3,1457 889.3,1451.7 Z" fill="url(#hA2)" stroke="#141414" stroke-width="1.8" stroke-linejoin="round"/>
<path d="M1135.4,1451.7 H1037 C1042,1472 1054,1488 1064.6,1496.7 H1083.3 V1485 L1094,1482 L1121.6,1464 L1136,1460 Z" fill="#fff" stroke="#141414" stroke-width="2.0" stroke-linejoin="round"/>
<path d="M1134.8,1451.7 H1099 C1088,1453 1078,1460 1073,1467 C1067,1476 1064.6,1486 1064.6,1496.7 H1072.7 C1072.7,1488 1074,1480 1078,1473 C1083,1465 1090,1459 1099,1458 H1131 Q1134.8,1457 1134.8,1451.7 Z" fill="#fff" stroke="none"/>
<path d="M1134.8,1451.7 H1099 C1088,1453 1078,1460 1073,1467 C1067,1476 1064.6,1486 1064.6,1496.7 H1072.7 C1072.7,1488 1074,1480 1078,1473 C1083,1465 1090,1459 1099,1458 H1131 Q1134.8,1457 1134.8,1451.7 Z" fill="url(#hA2)" stroke="#141414" stroke-width="1.8" stroke-linejoin="round"/>
<path d="M992.8,1320 H1030.8 V1387.7 H992.8 Z" fill="#fff" stroke="#141414" stroke-width="2.2" stroke-linejoin="round"/>
<path d="M996.4,1387.7 H1027.2 V1451.7 H996.4 Z" fill="#fff" stroke="#141414" stroke-width="2.0" stroke-linejoin="round"/>
<line x1="994.5" y1="1387.7" x2="1029" y2="1387.7" stroke="#141414" stroke-width="2.6"/>
<path d="M976.3,1321 H991.6999999999999 V1373.5 H976.3 Z" fill="#fff" stroke="#141414" stroke-width="2.0" stroke-linejoin="round"/>
<line x1="976.3" y1="1321" x2="991.6999999999999" y2="1373.5" stroke="#141414" stroke-width="1.3"/>
<line x1="991.6999999999999" y1="1321" x2="976.3" y2="1373.5" stroke="#141414" stroke-width="1.3"/>
<path d="M1032,1321 H1047.4 V1373.5 H1032 Z" fill="#fff" stroke="#141414" stroke-width="2.0" stroke-linejoin="round"/>
<line x1="1032" y1="1321" x2="1047.4" y2="1373.5" stroke="#141414" stroke-width="1.3"/>
<line x1="1047.4" y1="1321" x2="1032" y2="1373.5" stroke="#141414" stroke-width="1.3"/>
<path d="M992,1451.7 H1033 L1028,1470 V1496.7 H996 V1470 Z" fill="#fff" stroke="none"/>
<path d="M992,1451.7 H1033 L1028,1470 V1496.7 H996 V1470 Z" fill="url(#hB2)" stroke="#141414" stroke-width="2.0" stroke-linejoin="round"/>
<path d="M1000,1453 H1024 V1478 H1000 Z" fill="#fff" stroke="#141414" stroke-width="2.2" stroke-linejoin="round"/>
<line x1="1000" y1="1470" x2="1024" y2="1470" stroke="#141414" stroke-width="2.0"/>
<path d="M996.4,1478 H1027.2 V1496.7 H996.4 Z" fill="#fff" stroke="#141414" stroke-width="2.0" stroke-linejoin="round"/>
<line x1="940.7" y1="1497" x2="1083" y2="1497" stroke="#141414" stroke-width="2.6"/>
<line x1="700" y1="1441" x2="1322" y2="1441" stroke="#141414" stroke-width="0.9" stroke-dasharray="16 3 3 3"/>
<text x="0" y="0" transform="translate(651,834.6) scale(0.72,1)" font-family="Liberation Serif" font-size="20.5" fill="#222">14</text>
<line x1="643" y1="838" x2="673" y2="838" stroke="#141414" stroke-width="1.0"/>
<line x1="673" y1="838" x2="890" y2="909" stroke="#141414" stroke-width="0.9"/>
<circle cx="890" cy="909" r="1.6" fill="#141414"/>
<text x="0" y="0" transform="translate(651,910.6) scale(0.72,1)" font-family="Liberation Serif" font-size="20.5" fill="#222">13</text>
<line x1="643" y1="914" x2="673" y2="914" stroke="#141414" stroke-width="1.0"/>
<line x1="673" y1="914" x2="968.5" y2="1019" stroke="#141414" stroke-width="0.9"/>
<circle cx="968.5" cy="1019" r="1.6" fill="#141414"/>
<text x="0" y="0" transform="translate(651,994.6) scale(0.72,1)" font-family="Liberation Serif" font-size="20.5" fill="#222">12</text>
<line x1="643" y1="998" x2="673" y2="998" stroke="#141414" stroke-width="1.0"/>
<line x1="673" y1="998" x2="895.4" y2="1068.4" stroke="#141414" stroke-width="0.9"/>
<circle cx="895.4" cy="1068.4" r="1.6" fill="#141414"/>
<text x="0" y="0" transform="translate(651,1068.6) scale(0.72,1)" font-family="Liberation Serif" font-size="20.5" fill="#222">11</text>
<line x1="643" y1="1071" x2="673" y2="1071" stroke="#141414" stroke-width="1.0"/>
<line x1="673" y1="1071" x2="1002.5" y2="1128" stroke="#141414" stroke-width="0.9"/>
<circle cx="1002.5" cy="1128" r="1.6" fill="#141414"/>
<text x="0" y="0" transform="translate(647,1134.6) scale(0.72,1)" font-family="Liberation Serif" font-size="20.5" fill="#222">10</text>
<line x1="638" y1="1137.4" x2="667" y2="1137.4" stroke="#141414" stroke-width="1.0"/>
<line x1="667" y1="1137.4" x2="968.5" y2="1198.4" stroke="#141414" stroke-width="0.9"/>
<circle cx="968.5" cy="1198.4" r="1.6" fill="#141414"/>
<text x="0" y="0" transform="translate(650,1204.6) scale(0.72,1)" font-family="Liberation Serif" font-size="20.5" fill="#222">9</text>
<line x1="638" y1="1207.4" x2="667" y2="1207.4" stroke="#141414" stroke-width="1.0"/>
<line x1="667" y1="1207.4" x2="964.7" y2="1292.8" stroke="#141414" stroke-width="0.9"/>
<circle cx="964.7" cy="1292.8" r="1.6" fill="#141414"/>
<text x="0" y="0" transform="translate(650,1237.6) scale(0.72,1)" font-family="Liberation Serif" font-size="20.5" fill="#222">8</text>
<line x1="638" y1="1239.6" x2="667" y2="1239.6" stroke="#141414" stroke-width="1.0"/>
<line x1="667" y1="1239.6" x2="858" y2="1345" stroke="#141414" stroke-width="0.9"/>
<circle cx="858" cy="1345" r="1.6" fill="#141414"/>
<text x="0" y="0" transform="translate(650,1292.6) scale(0.72,1)" font-family="Liberation Serif" font-size="20.5" fill="#222">7</text>
<line x1="638" y1="1296" x2="667" y2="1296" stroke="#141414" stroke-width="1.0"/>
<line x1="667" y1="1296" x2="899" y2="1370.4" stroke="#141414" stroke-width="0.9"/>
<circle cx="899" cy="1370.4" r="1.6" fill="#141414"/>
<text x="0" y="0" transform="translate(654,1512.6) scale(0.72,1)" font-family="Liberation Serif" font-size="20.5" fill="#222">6</text>
<line x1="643" y1="1515.6" x2="672" y2="1515.6" stroke="#141414" stroke-width="1.0"/>
<line x1="672" y1="1515.6" x2="718" y2="1500" stroke="#141414" stroke-width="0.9"/>
<circle cx="718" cy="1500" r="1.6" fill="#141414"/>
<text x="0" y="0" transform="translate(654,1586.6) scale(0.72,1)" font-family="Liberation Serif" font-size="20.5" fill="#222">5</text>
<line x1="643" y1="1588.6" x2="672" y2="1588.6" stroke="#141414" stroke-width="1.0"/>
<line x1="672" y1="1588.6" x2="922" y2="1455" stroke="#141414" stroke-width="0.9"/>
<circle cx="922" cy="1455" r="1.6" fill="#141414"/>
<text x="0" y="0" transform="translate(654,1639.6) scale(0.72,1)" font-family="Liberation Serif" font-size="20.5" fill="#222">4</text>
<line x1="643" y1="1643.4" x2="672" y2="1643.4" stroke="#141414" stroke-width="1.0"/>
<line x1="672" y1="1643.4" x2="945" y2="1485" stroke="#141414" stroke-width="0.9"/>
<circle cx="945" cy="1485" r="1.6" fill="#141414"/>
<text x="0" y="0" transform="translate(654,1668.6) scale(0.72,1)" font-family="Liberation Serif" font-size="20.5" fill="#222">3</text>
<line x1="643" y1="1671.4" x2="672" y2="1671.4" stroke="#141414" stroke-width="1.0"/>
<text x="0" y="0" transform="translate(654,1708.6) scale(0.72,1)" font-family="Liberation Serif" font-size="20.5" fill="#222">2</text>
<line x1="643" y1="1712" x2="672" y2="1712" stroke="#141414" stroke-width="1.0"/>
<line x1="672" y1="1712" x2="1000" y2="1492" stroke="#141414" stroke-width="0.9"/>
<circle cx="1000" cy="1492" r="1.6" fill="#141414"/>
<text x="0" y="0" transform="translate(654,1765.6) scale(0.72,1)" font-family="Liberation Serif" font-size="20.5" fill="#222">1</text>
<line x1="643" y1="1769.4" x2="672" y2="1769.4" stroke="#141414" stroke-width="1.0"/>
<line x1="672" y1="1769.4" x2="845" y2="1708" stroke="#141414" stroke-width="0.9"/>
<circle cx="845" cy="1708" r="1.6" fill="#141414"/>
<line x1="672" y1="1643.4" x2="672" y2="1671.4" stroke="#141414" stroke-width="1.0"/>
<path d="M845,1708 L870,1699" fill="none" stroke="#141414" stroke-width="0.9" />
<circle cx="870" cy="1699" r="1.6" fill="#141414"/>
<line x1="1012.5" y1="785" x2="1012.5" y2="1715" stroke="#141414" stroke-width="0.9" stroke-dasharray="14 3 2 3"/></svg>
</body></html>
